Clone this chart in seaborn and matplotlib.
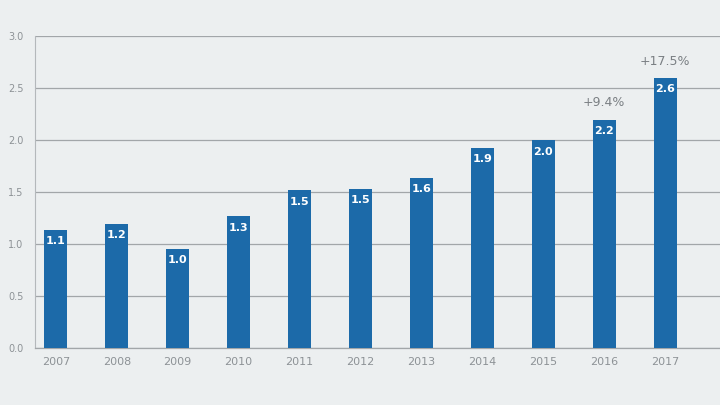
import matplotlib
matplotlib.use('Agg')
import matplotlib.pyplot as plt
import seaborn as sns
import pandas as pd

years = ['2007', '2008', '2009', '2010', '2011', '2012', '2013', '2014', '2015', '2016', '2017']
values = [1.14, 1.2, 0.96, 1.27, 1.52, 1.53, 1.64, 1.93, 2.0, 2.2, 2.6]
bar_labels = ['1.1', '1.2', '1.0', '1.3', '1.5', '1.5', '1.6', '1.9', '2.0', '2.2', '2.6']
growth = {'2016': '+9.4%', '2017': '+17.5%'}

df = pd.DataFrame({'year': years, 'value': values, 'label': bar_labels})

sns.set_style('white')
plt.rcParams['font.family'] = ['DejaVu Sans']

bg = '#eceff0'
bar_color = '#1c6aa9'
grey = '#8d9296'

fig = plt.figure(figsize=(7.2, 4.05), dpi=100, facecolor=bg)
ax = fig.add_axes([0.048, 0.14, 0.952, 0.77], facecolor=bg)

sns.barplot(data=df, x='year', y='value', color=bar_color, width=0.38,
            saturation=1, linewidth=0, ax=ax, zorder=3)

ax.set_ylim(0, 3.0)
ax.set_xlim(-0.35, 10.9)
ax.set_yticks([0.0, 0.5, 1.0, 1.5, 2.0, 2.5, 3.0])
ax.set_yticklabels(['0.0', '0.5', '1.0', '1.5', '2.0', '2.5', '3.0'])
ax.yaxis.grid(True, color='#a2a6a9', linewidth=0.9, zorder=0)
ax.set_axisbelow(True)
ax.tick_params(axis='y', colors=grey, labelsize=7, length=0, pad=8)
ax.tick_params(axis='x', colors=grey, labelsize=8, length=0, pad=6)
ax.set_xlabel('')
ax.set_ylabel('')

for s in ['top', 'right']:
    ax.spines[s].set_visible(False)
ax.spines['left'].set_color('#b4b8bb')
ax.spines['left'].set_linewidth(0.8)
ax.spines['bottom'].set_color('#a2a6a9')
ax.spines['bottom'].set_linewidth(0.9)

for i, row in df.iterrows():
    ax.text(i, row['value'] - 0.06, row['label'], ha='center', va='top',
            color='white', fontsize=8, fontweight='bold', zorder=4)
    if row['year'] in growth:
        ax.text(i, row['value'] + 0.1, growth[row['year']], ha='center', va='bottom',
                color='#7a7f83', fontsize=9, clip_on=False)

fig.savefig('out.png', dpi=100, facecolor=bg)
